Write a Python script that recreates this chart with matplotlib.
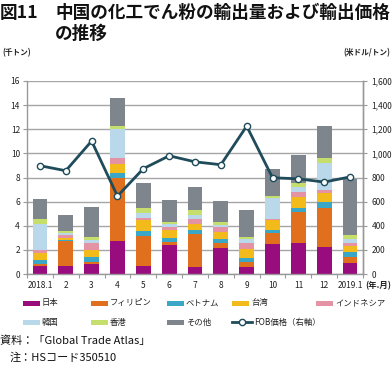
import matplotlib
matplotlib.use("Agg")
import matplotlib.pyplot as plt
from matplotlib.patches import Rectangle
from matplotlib.lines import Line2D
import numpy as np

plt.rcParams['font.family'] = ['Noto Sans CJK JP', 'DejaVu Sans']

# ---------------- data ----------------
categories = ['2018.1', '2', '3', '4', '5', '6', '7', '8', '9', '10', '11', '12', '2019.1']

series_names = ['日本', 'フィリピン', 'ベトナム', '台湾', 'インドネシア', '韓国', '香港', 'その他']

# volumes (thousand tonnes), per series
japan       = [0.65, 0.66, 0.85, 2.75, 0.66, 2.40, 0.61, 2.18, 0.60, 2.49, 2.60, 2.27, 0.95]
philippines = [0.18, 2.09, 0.15, 5.20, 2.52, 0.28, 2.68, 0.37, 0.37, 0.94, 2.57, 3.23, 0.43]
vietnam     = [0.37, 0.05, 0.38, 0.40, 0.41, 0.33, 0.36, 0.35, 0.33, 0.22, 0.33, 0.44, 0.48]
taiwan      = [0.50, 0.20, 0.57, 0.75, 0.89, 0.64, 0.47, 0.60, 0.77, 0.83, 0.85, 0.75, 0.42]
indonesia   = [0.30, 0.20, 0.61, 0.50, 0.13, 0.22, 0.44, 0.42, 0.48, 0.04, 0.47, 0.27, 0.32]
korea       = [2.15, 0.20, 0.28, 2.40, 0.42, 0.25, 0.33, 0.18, 0.32, 1.75, 0.36, 2.21, 0.31]
hongkong    = [0.42, 0.15, 0.22, 0.25, 0.41, 0.16, 0.39, 0.18, 0.23, 0.19, 0.39, 0.41, 0.29]
others      = [1.68, 1.35, 2.48, 2.30, 2.07, 1.85, 1.96, 1.77, 2.23, 2.24, 2.29, 2.72, 4.67]

fob_price = [898, 856, 1102, 646, 873, 980, 930, 906, 1226, 798, 789, 762, 805]

left_ticks = [0, 2, 4, 6, 8, 10, 12, 14, 16]
right_ticks = [0, 200, 400, 600, 800, 1000, 1200, 1400, 1600]

colors = ['#990C7E', '#E0701E', '#3BA7C7', '#F2BA1B', '#E493A4', '#B9D8E9', '#C6DE6C', '#7F858C']
line_color = '#1F4B5A'

# ---------------- figure ----------------
W, H = 392, 366
fig = plt.figure(figsize=(W / 100, H / 100), dpi=100)

def fx(px):
    return px / W

def fy(py):
    return 1 - py / H

ax_l, ax_r, ax_t, ax_b = 27, 363, 81, 274
ax = fig.add_axes([fx(ax_l), fy(ax_b), fx(ax_r - ax_l), (ax_b - ax_t) / H])

data = [japan, philippines, vietnam, taiwan, indonesia, korea, hongkong, others]
x = np.arange(len(categories))
bottom = np.zeros(len(categories))
for vals, c, name in zip(data, colors, series_names):
    ax.bar(x, vals, width=0.57, bottom=bottom, color=c, label=name, zorder=2, linewidth=0)
    bottom += np.array(vals)

ax.set_xlim(-0.5, len(categories) - 0.5)
ax.set_ylim(0, 16)
ax.set_yticks(left_ticks)
ax.set_yticklabels([str(t) for t in left_ticks])
ax.set_xticks(x)
ax.set_xticklabels(categories)
ax.set_xticks(np.arange(-0.5, len(categories), 1.0), minor=True)
ax.tick_params(axis='x', which='major', length=0, labelsize=6, pad=5, colors='#222222')
ax.tick_params(axis='x', which='minor', length=3, color='#999999', width=0.8, direction='out')
ax.tick_params(axis='y', length=3, color='#999999', width=0.8, labelsize=6, pad=2, colors='#222222')
ax.yaxis.grid(True, color='#A6A6A6', linewidth=1.0, zorder=0)
ax.set_axisbelow(True)
ax.spines['top'].set_visible(False)
for s in ['left', 'bottom', 'right']:
    ax.spines[s].set_color('#999999')
    ax.spines[s].set_linewidth(1.0)

ax2 = ax.twinx()
ax2.set_ylim(0, 1600)
ax2.set_yticks(right_ticks)
ax2.set_yticklabels([f'{t:,}' for t in right_ticks])
ax2.tick_params(axis='y', length=3, color='#999999', width=0.8, labelsize=6, pad=3, colors='#222222')
for s in ['top', 'left', 'bottom']:
    ax2.spines[s].set_visible(False)
ax2.spines['right'].set_color('#999999')
ax2.spines['right'].set_linewidth(1.0)
ax2.plot(x, fob_price, color=line_color, linewidth=2.0, marker='o', markersize=4.5,
         markerfacecolor='white', markeredgecolor=line_color, markeredgewidth=1.0, zorder=5,
         clip_on=False)

# ---------------- texts ----------------
title_fs = 12.7
fig.text(fx(0), fy(13), '図11', fontsize=title_fs, fontweight='bold', va='center', ha='left', color='#111111')
fig.text(fx(55), fy(13), '中国の化工でん粉の輸出量および輸出価格', fontsize=title_fs, fontweight='bold',
         va='center', ha='left', color='#111111')
fig.text(fx(55), fy(34), 'の推移', fontsize=title_fs, fontweight='bold', va='center', ha='left', color='#111111')

fig.text(fx(2), fy(53), '(千トン)', fontsize=5.5, fontweight='bold', va='center', ha='left', color='#222222')
fig.text(fx(390), fy(53), '(米ドル/トン)', fontsize=5.5, fontweight='bold', va='center', ha='right', color='#222222')
fig.text(fx(391), fy(286), '(年.月)', fontsize=6, fontweight='bold', va='center', ha='right', color='#222222')

# ---------------- legend ----------------
leg_rows = [303, 322]
leg_cols = [23, 91, 167, 232, 316]
positions = [(leg_cols[i % 5], leg_rows[i // 5]) for i in range(8)]
for (px, py), c, name in zip(positions, colors, series_names):
    fig.patches.append(Rectangle((fx(px), fy(py + 2.5)), 17 / W, 5 / H, transform=fig.transFigure,
                                 facecolor=c, edgecolor='none'))
    fig.text(fx(px + 19), fy(py), name, fontsize=6, va='center', ha='left', color='#222222')

lx, ly = leg_cols[3], leg_rows[1]
fig.lines.append(Line2D([fx(lx), fx(lx + 20)], [fy(ly), fy(ly)], transform=fig.transFigure,
                        color=line_color, linewidth=2.0))
fig.lines.append(Line2D([fx(lx + 10)], [fy(ly)], transform=fig.transFigure, marker='o',
                        markersize=4.5, markerfacecolor='white', markeredgecolor=line_color,
                        markeredgewidth=1.0, linestyle='none'))
fig.text(fx(lx + 22), fy(ly), 'FOB価格（右軸）', fontsize=6, va='center', ha='left', color='#222222')

# ---------------- source ----------------
fig.text(fx(0), fy(341), '資料：「Global Trade Atlas」', fontsize=8, va='center', ha='left', color='#111111')
fig.text(fx(10), fy(358), '注：HSコード350510', fontsize=8, va='center', ha='left', color='#111111')

fig.savefig('out.png', dpi=100)
